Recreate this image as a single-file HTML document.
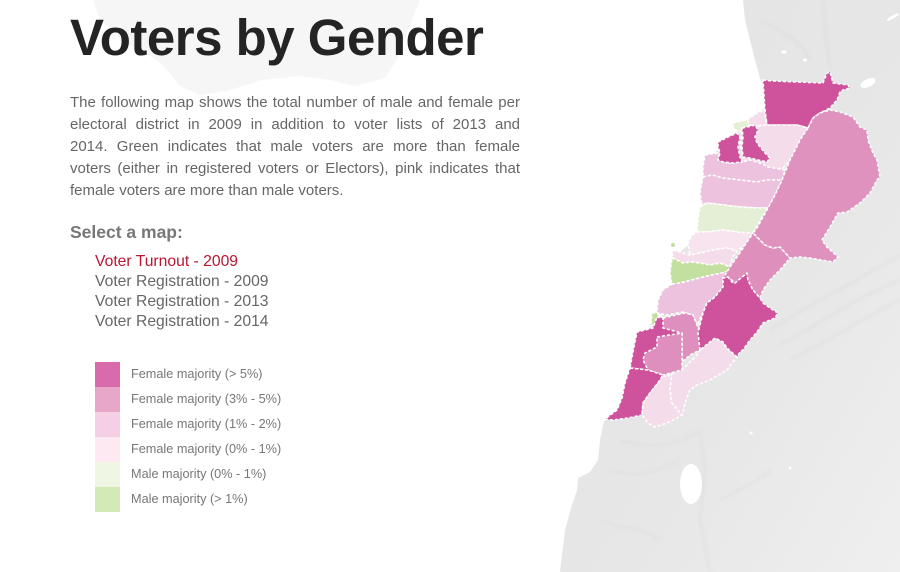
<!DOCTYPE html>
<html>
<head>
<meta charset="utf-8">
<style>
  html,body{margin:0;padding:0;background:#fff;}
  body{width:900px;height:572px;position:relative;overflow:hidden;font-family:"Liberation Sans",Arial,sans-serif;}
  svg.bg{position:absolute;left:0;top:0;}
  .title{position:absolute;left:70px;top:12px;font-size:51px;line-height:51px;font-weight:bold;color:#242424;letter-spacing:-0.5px;white-space:nowrap;}
  .para{position:absolute;left:70px;top:92px;width:450px;font-size:15px;line-height:22px;color:#666;}
  .para div{text-align:justify;text-align-last:justify;white-space:nowrap;height:22px;}
  .para div.last{text-align-last:left;}
  .sel{position:absolute;left:70px;top:222px;font-size:17.5px;line-height:20px;font-weight:bold;color:#777;white-space:nowrap;}
  .menu{position:absolute;left:95px;top:252px;font-size:15.7px;line-height:20px;color:#666;white-space:nowrap;}
  .menu .act{color:#b81532;}
  .legend{position:absolute;left:95px;top:362px;}
  .legend .row{height:25px;position:relative;}
  .legend .sw{position:absolute;left:0;top:0;width:25px;height:25px;}
  .legend .lb{position:absolute;left:36px;top:0;font-size:12.7px;line-height:25px;color:#777;white-space:nowrap;}
</style>
</head>
<body>
<svg class="bg" width="900" height="572" viewBox="0 0 900 572" xmlns="http://www.w3.org/2000/svg">
  <defs>
    <linearGradient id="lg" x1="0" y1="0" x2="1" y2="1">
      <stop offset="0" stop-color="#e3e3e3"/>
      <stop offset="0.6" stop-color="#e7e7e7"/>
      <stop offset="1" stop-color="#efefef"/>
    </linearGradient>
    <filter id="bl" x="-20%" y="-20%" width="140%" height="140%"><feGaussianBlur stdDeviation="1.5"/></filter>
  </defs>
  <!-- faint Cyprus -->
  <polygon points="93,0 420,0 408,30 398,58 385,78 355,86 330,80 300,76 262,80 230,90 200,95 180,86 160,62 122,40 100,20" fill="#f6f6f6"/>
  <!-- land -->
  <polygon points="743,0 900,0 900,572 560,572 565,530 572,505 577,490 578,478 590,472 598,460 600,440 604,421 617,415 625,395 630,375 636,360 640,335 662,318 665,300 674,280 676,260 680,252 695,240 702,230 703,210 704,193 706,175 710,158 722,145 730,138 738,130 750,123 757,115 765,108 763,85 760,78 755,60 750,40 745,20" fill="url(#lg)"/>
  <!-- texture ridges -->
  <g stroke="#d8d8d8" stroke-width="2" fill="none" filter="url(#bl)" opacity="0.5">
    <path d="M770,330 C800,310 840,290 900,255"/>
    <path d="M780,345 C810,330 850,300 900,280"/>
    <path d="M790,360 C830,340 860,320 900,300"/>
    <path d="M620,440 C650,450 680,445 700,430"/>
    <path d="M610,470 C640,480 660,470 680,460"/>
    <path d="M700,430 L705,470 L700,520 L710,572"/>
    <path d="M720,500 C740,490 760,480 770,470"/>
    <path d="M600,520 C620,530 640,525 660,540"/>
    <path d="M823,0 L826,40 L830,70"/>
    <path d="M760,20 C780,30 800,40 810,60"/>
  </g>
  <!-- lakes -->
  <ellipse cx="691" cy="484" rx="11" ry="20" fill="#fff"/>
  <ellipse cx="868" cy="83" rx="8" ry="4" transform="rotate(-25 868 83)" fill="#fff"/>
  <ellipse cx="784" cy="52" rx="3" ry="1.5" fill="#fff"/>
  <ellipse cx="805" cy="60" rx="2" ry="1.5" fill="#fff"/>
  <ellipse cx="893" cy="17" rx="7" ry="1.5" transform="rotate(-30 893 17)" fill="#fff"/>
  <circle cx="751" cy="433" r="1.5" fill="#fff"/>
  <circle cx="790" cy="468" r="1.5" fill="#fff"/>

  <!-- districts -->
  <g stroke="#fff" stroke-width="1.6" stroke-dasharray="3 2" stroke-linejoin="round">
    <polygon fill="#cf539c" points="763,80 773,81 797,82 823,83 827,73 830,72 833,83 848,85 850,88 843,90 840,92 837,100 830,108 820,113 813,118 808,128 797,125 777,125 767,125 765,110"/>
    <polygon fill="#f5dcea" points="747,120 757,113 764,110 767,125 750,126"/>
    <polygon fill="#f5dcea" points="743,128 767,125 797,125 808,128 800,140 790,160 783,168 770,170 755,165 745,160 740,145"/>
    <polygon fill="#e4efd6" points="733,123 747,120 750,125 743,130 738,132 733,127"/>
    <polygon fill="#ecc2de" points="705,155 718,153 720,160 727,163 742,162 750,160 760,163 768,167 785,170 782,180 767,180 757,182 740,180 723,178 712,175 703,177 703,167"/>
    <polygon fill="#ecc2de" points="703,177 712,175 723,178 740,180 757,182 767,180 782,180 775,195 768,208 757,208 740,207 723,205 707,203 702,205 700,193"/>
    <polygon fill="#cf539c" points="718,142 728,137 737,133 740,137 738,147 740,157 742,162 733,163 723,162 718,160 720,153 718,147"/>
    <polygon fill="#cf539c" points="742,128 747,127 755,125 758,130 755,137 757,143 765,153 770,158 767,162 758,160 750,158 743,157 742,147 743,137"/>
    <polygon fill="#e4efd6" points="700,207 707,203 723,205 740,207 757,208 768,208 760,220 753,233 748,234 737,232 723,230 707,232 697,232 698,220"/>
    <polygon fill="#f8e4ef" points="697,232 707,232 723,230 737,232 753,233 745,245 737,251 727,248 713,250 700,253 690,255 688,243 692,235"/>
    <polygon fill="#f5dcea" points="673,250 690,255 700,253 713,250 727,248 737,251 732,258 730,267 720,263 710,265 700,263 690,262 683,263 677,260 672,257"/>
    <polygon fill="#c4e0a0" points="672,258 677,260 683,263 690,262 700,263 710,265 720,263 730,267 733,270 722,273 712,275 703,277 692,280 680,283 672,285 670,273"/>
    <polygon fill="#ecc2de" points="672,284 680,283 692,280 703,277 712,275 722,273 733,270 728,277 723,287 715,297 707,303 703,313 697,325 693,315 683,312 667,315 657,313 658,300 663,290"/>
    <polygon fill="#de8fbd" points="663,318 685,313 693,315 697,325 700,333 700,350 690,355 682,362 682,337 680,333 667,332 663,327"/>
    <polygon fill="#c4e0a0" points="652,313 658,313 658,320 655,326 651,325"/>
    <polygon fill="#cf539c" points="657,317 663,318 663,328 678,332 682,335 682,370 663,373 648,370 630,368 632,357 635,342 637,332 653,328"/>
    <polygon fill="#de8fbd" points="657,337 682,333 682,370 663,375 648,370 643,360 645,353 657,347"/>
    <polygon fill="#cf539c" points="630,368 648,370 663,375 658,383 650,393 643,403 642,415 628,418 613,420 605,419 617,410 622,398 625,383"/>
    <polygon fill="#f5dcea" points="658,383 663,375 667,377 672,373 670,390 672,403 682,415 677,418 667,423 655,427 648,423 642,415 643,403 650,393"/>
    <polygon fill="#f5dcea" points="672,373 682,370 697,355 700,350 715,338 723,342 727,348 737,357 732,363 727,370 710,380 697,385 690,390 685,403 683,413 682,415 672,403 670,390"/>
    <polygon fill="#cf539c" points="700,350 698,333 703,313 707,303 715,297 723,287 723,278 728,277 732,282 735,283 738,280 742,277 747,273 748,280 753,290 760,298 763,303 770,308 778,313 775,318 763,323 757,332 750,340 743,350 740,352 737,357 727,348 723,342 715,338"/>
    <polygon fill="#de8fbc" points="753,233 760,240 765,245 773,248 780,247 790,258 780,270 770,280 763,290 760,298 753,290 748,280 747,273 742,277 735,283 728,277 723,278 730,267 737,257 745,245"/>
    <polygon fill="#df92be" points="808,128 813,118 820,113 830,110 840,112 853,117 860,127 867,130 868,140 873,153 877,160 880,177 877,180 870,193 860,203 847,212 838,213 830,227 822,240 827,247 838,257 833,262 810,258 800,257 790,258 780,247 773,248 765,245 753,233 757,228 768,208 775,195 782,180 790,160 800,140"/>
  </g>
  <circle cx="673" cy="245" r="2.5" fill="#c4e0a0" stroke="#fff" stroke-width="1"/>
</svg>

<div class="title">Voters by Gender</div>
<div class="para">
  <div>The following map shows the total number of male and female per</div>
  <div>electoral district in 2009 in addition to voter lists of 2013 and</div>
  <div>2014. Green indicates that male voters are more than female</div>
  <div>voters (either in registered voters or Electors), pink indicates that</div>
  <div class="last">female voters are more than male voters.</div>
</div>
<div class="sel">Select a map:</div>
<div class="menu">
  <div class="act">Voter Turnout - 2009</div>
  <div>Voter Registration - 2009</div>
  <div>Voter Registration - 2013</div>
  <div>Voter Registration - 2014</div>
</div>
<div class="legend">
  <div class="row"><div class="sw" style="background:#d96aab"></div><div class="lb">Female majority (&gt; 5%)</div></div>
  <div class="row"><div class="sw" style="background:#e8a6c9"></div><div class="lb">Female majority (3% - 5%)</div></div>
  <div class="row"><div class="sw" style="background:#f5cfe4"></div><div class="lb">Female majority (1% - 2%)</div></div>
  <div class="row"><div class="sw" style="background:#fde9f2"></div><div class="lb">Female majority (0% - 1%)</div></div>
  <div class="row"><div class="sw" style="background:#eff7e4"></div><div class="lb">Male majority (0% - 1%)</div></div>
  <div class="row"><div class="sw" style="background:#d4eab4"></div><div class="lb">Male majority (&gt; 1%)</div></div>
</div>
</body>
</html>
